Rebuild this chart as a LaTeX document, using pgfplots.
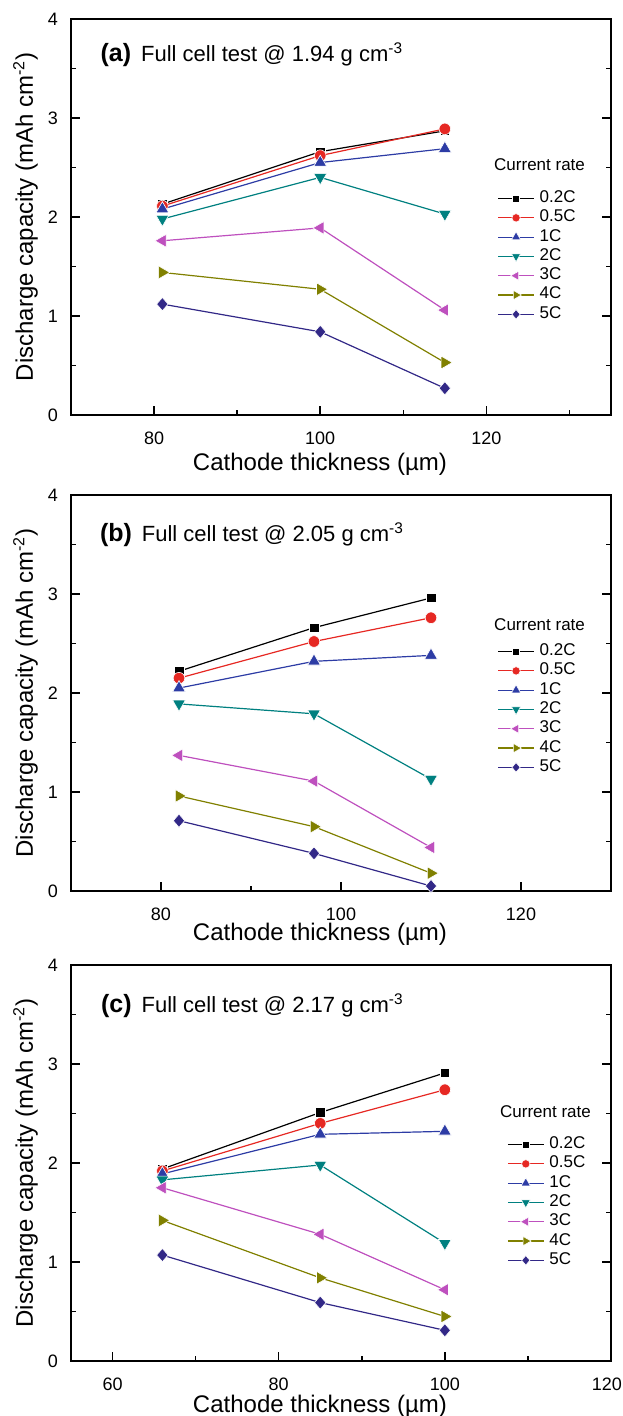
\documentclass[border=0pt]{standalone}
\usepackage{fontspec}
\setmainfont{Liberation Sans}
\usepackage{pgfplots}
\pgfplotsset{compat=1.18}

\definecolor{cRed}{RGB}{230,40,35}
\definecolor{cBlue}{RGB}{45,60,165}
\definecolor{cTeal}{RGB}{0,128,128}
\definecolor{cMag}{RGB}{190,80,190}
\definecolor{cOlive}{RGB}{128,128,0}
\definecolor{cNavy}{RGB}{50,40,135}

\newcommand{\paneltitle}[2]{{\fontsize{12.5}{14}\selectfont\bfseries (#1)}\hspace{5pt}Full cell test @ #2 g cm\textsuperscript{-3}}

\pgfplotsset{
  panel/.style={
    scale only axis, width=270pt, height=198pt,
    ymin=0, ymax=4, ytick={0,1,2,3,4}, minor ytick={0.5,1.5,2.5,3.5},
    xtick pos=left, ytick pos=both, yticklabel pos=left,
    tick align=inside,
    major tick length=4.5pt, minor tick length=2.5pt,
    every tick/.style={black, line width=0.8pt},
    axis line style={line width=1pt},
    tick label style={font=\fontsize{9}{10}\selectfont},
    xticklabel style={yshift=-4.8pt},
    yticklabel style={xshift=-3pt},
    /pgf/number format/assume math mode=true,
    label style={font=\fontsize{12}{14}\selectfont},
    xlabel={Cathode thickness (µm)},
    ylabel={Discharge capacity (mAh cm\textsuperscript{-2})},
    ylabel style={at={(axis description cs:-0.0704,0.5)}, anchor=base},
    legend style={draw=none, fill=none, anchor=north west,
      font=\fontsize{8.5}{10}\selectfont, inner sep=0pt, row sep=0pt,
      column sep=2pt,
      nodes={inner sep=0.5pt, text height=6.3pt, text depth=2.35pt}},
    legend cell align=left,
    legend image code/.code={\draw[mark repeat=2, mark phase=2,
      /tikz/every mark/.append style={scale=0.72}]
      plot coordinates {(0pt,0pt) (9pt,0pt) (18pt,0pt)};},
    every axis plot/.append style={line width=0.6pt},
  },
  sA/.style={black, mark=square*, mark size=2.4pt, mark options={solid, fill=black, draw=white, line width=0.3pt}},
  sB/.style={cRed, mark=*, mark size=2.9pt, mark options={solid, fill=cRed, draw=white, line width=0.3pt}},
  sC/.style={cBlue, mark=triangle*, mark size=3.7pt, mark options={solid, fill=cBlue, draw=white, line width=0.3pt}},
  sD/.style={cTeal, mark=triangle*, mark size=3.7pt, mark options={solid, fill=cTeal, draw=white, line width=0.3pt, rotate=180}},
  sE/.style={cMag, mark=triangle*, mark size=3.7pt, mark options={solid, fill=cMag, draw=white, line width=0.3pt, rotate=90}},
  sF/.style={cOlive, mark=triangle*, mark size=3.7pt, mark options={solid, fill=cOlive, draw=white, line width=0.3pt, rotate=-90}},
  sG/.style={cNavy, mark=diamond*, mark size=3.3pt, mark options={solid, fill=cNavy, draw=white, line width=0.3pt, xscale=1.15}},
}

\begin{document}
\begin{tikzpicture}
\useasboundingbox (0,0) rectangle (311pt,-708pt);

% ---------- (a) ----------
\begin{axis}[panel, at={(35.5pt,-207.5pt)}, anchor=south west,
  xmin=70, xmax=135, xtick={80,100,120}, minor xtick={90,110,130},
  xlabel style={at={(axis description cs:0.461,-0.1406)}, anchor=base},
  legend style={at={(0.789,0.572)}}]
\addplot[sA] coordinates {(81,2.13) (100,2.66) (115,2.87)};
\addplot[sB] coordinates {(81,2.11) (100,2.62) (115,2.89)};
\addplot[sC] coordinates {(81,2.08) (100,2.55) (115,2.69)};
\addplot[sD] coordinates {(81,1.98) (100,2.40) (115,2.03)};
\addplot[sE] coordinates {(81,1.76) (100,1.89) (115,1.06)};
\addplot[sF] coordinates {(81,1.44) (100,1.27) (115,0.53)};
\addplot[sG] coordinates {(81,1.12) (100,0.84) (115,0.27)};
\legend{0.2C,0.5C,1C,2C,3C,4C,5C}
\node[anchor=base west, inner sep=0pt, font=\fontsize{11}{13}\selectfont] at (rel axis cs:0.054,0.892) {\paneltitle{a}{1.94}};
\node[anchor=west, inner sep=0pt, font=\fontsize{8.5}{10}\selectfont] at (rel axis cs:0.783,0.632) {Current rate};
\end{axis}

% ---------- (b) ----------
\begin{axis}[panel, at={(35.5pt,-445.5pt)}, anchor=south west,
  xmin=70, xmax=130, xtick={80,100,120}, minor xtick={90,110},
  xlabel style={at={(axis description cs:0.461,-0.124)}, anchor=base},
  legend style={at={(0.789,0.630)}}]
\addplot[sA] coordinates {(82,2.22) (97,2.66) (110,2.96)};
\addplot[sB] coordinates {(82,2.15) (97,2.52) (110,2.76)};
\addplot[sC] coordinates {(82,2.05) (97,2.32) (110,2.38)};
\addplot[sD] coordinates {(82,1.89) (97,1.79) (110,1.13)};
\addplot[sE] coordinates {(82,1.37) (97,1.11) (110,0.44)};
\addplot[sF] coordinates {(82,0.96) (97,0.65) (110,0.18)};
\addplot[sG] coordinates {(82,0.71) (97,0.38) (110,0.05)};
\legend{0.2C,0.5C,1C,2C,3C,4C,5C}
\node[anchor=base west, inner sep=0pt, font=\fontsize{11}{13}\selectfont] at (rel axis cs:0.053,0.882) {\paneltitle{b}{2.05}};
\node[anchor=west, inner sep=0pt, font=\fontsize{8.5}{10}\selectfont] at (rel axis cs:0.783,0.672) {Current rate};
\end{axis}

% ---------- (c) ----------
\begin{axis}[panel, at={(35.5pt,-680.5pt)}, anchor=south west,
  xmin=55, xmax=120, xtick={60,80,100}, minor xtick={70,90,110},
  extra x ticks={120}, extra x tick style={xticklabel style={xshift=-2pt}},
  xlabel style={at={(axis description cs:0.461,-0.131)}, anchor=base},
  legend style={at={(0.807,0.572)}}]
\addplot[sA] coordinates {(66,1.94) (85,2.51) (100,2.91)};
\addplot[sB] coordinates {(66,1.92) (85,2.40) (100,2.74)};
\addplot[sC] coordinates {(66,1.89) (85,2.29) (100,2.32)};
\addplot[sD] coordinates {(66,1.83) (85,1.98) (100,1.19)};
\addplot[sE] coordinates {(66,1.75) (85,1.28) (100,0.72)};
\addplot[sF] coordinates {(66,1.42) (85,0.84) (100,0.45)};
\addplot[sG] coordinates {(66,1.07) (85,0.59) (100,0.31)};
\legend{0.2C,0.5C,1C,2C,3C,4C,5C}
\node[anchor=base west, inner sep=0pt, font=\fontsize{11}{13}\selectfont] at (rel axis cs:0.055,0.881) {\paneltitle{c}{2.17}};
\node[anchor=west, inner sep=0pt, font=\fontsize{8.5}{10}\selectfont] at (rel axis cs:0.794,0.630) {Current rate};
\end{axis}
\end{tikzpicture}
\end{document}
